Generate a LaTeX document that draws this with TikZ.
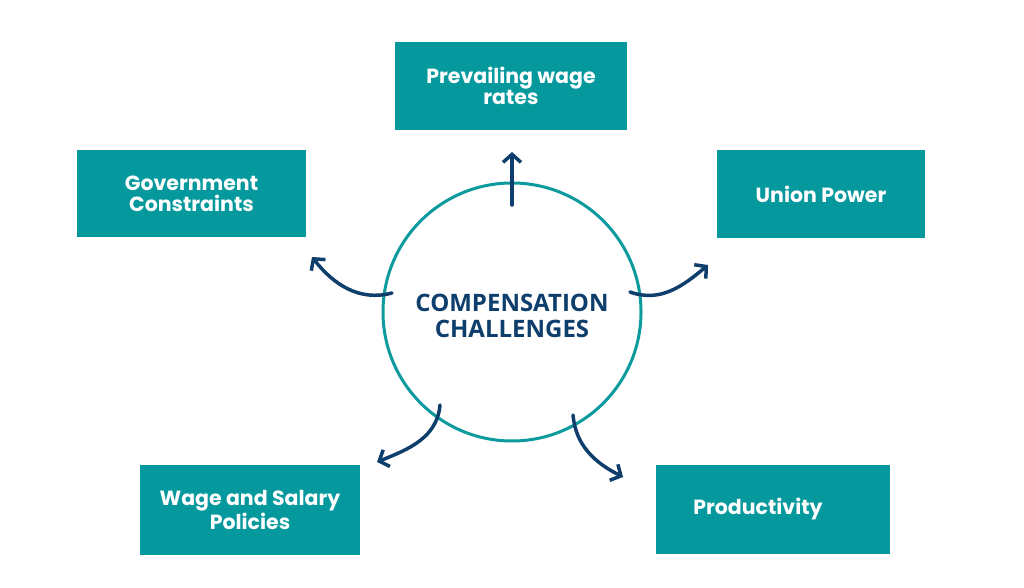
\documentclass[tikz,border=0pt]{standalone}
\usepackage{fontspec}
\newfontfamily\popfont{Poppins}
\newfontfamily\opensans{Open Sans}
\usetikzlibrary{arrows.meta}
\definecolor{tealbox}{HTML}{05999E}
\definecolor{tealring}{HTML}{0C9A9E}
\definecolor{navy}{HTML}{0E3E6C}
\tikzset{
  box/.style={fill=tealbox, draw=none, text=white, align=center,
    font=\popfont\bfseries\fontsize{20.5}{21}\selectfont, inner sep=0pt},
  ring/.style={circle, draw=tealring, line width=3pt, fill=white,
    minimum size=258pt, inner sep=0pt},
  flow/.style={draw=navy, line width=3.5pt, line cap=round,
    -{Straight Barb[length=8pt,width=18pt,line width=3.5pt]}}
}
\begin{document}
\begin{tikzpicture}[x=1pt,y=1pt]
\useasboundingbox[fill=white] (0,0) rectangle (1024,588);
% boxes
\node[box, minimum width=232pt, minimum height=88pt] (prev) at (511,502) {Prevailing wage\\rates};
\node[box, minimum width=229pt, minimum height=87pt] (gov) at (191.5,394.5) {Government\\Constraints};
\node[box, minimum width=208pt, minimum height=88pt] (union) at (821,394) {Union Power};
\node[box, minimum width=220pt, minimum height=90pt] (wage) at (250,78) {Wage and Salary\\Policies};
\node[box, minimum width=234pt, minimum height=89pt] (prod) at (773,78.5) {\hspace*{-30pt}Productivity};
% circle
\node[ring] (circ) at (512,276) {};
\node[font=\opensans\bfseries\fontsize{24}{26}\selectfont, text=navy, align=center] (title) at (512,272) {COMPENSATION\\CHALLENGES};
% arrow end points
\coordinate (s1) at (512,383); \coordinate (e1) at (512,436);
\coordinate (s2) at (392,295); \coordinate (e2) at (312,331);
\coordinate (s3) at (630,296); \coordinate (e3) at (708,323);
\coordinate (s4) at (440,183); \coordinate (e4) at (377,126);
\coordinate (s5) at (573,173); \coordinate (e5) at (623,111);
% arrows
\draw[flow] (s1) -- (e1);
\draw[flow] (s2) to[out=195,in=-52] (e2);
\draw[flow] (s3) to[out=-20,in=220] (e3);
\draw[flow] (s4) to[out=-95,in=22] (e4);
\draw[flow] (s5) to[out=-85,in=153] (e5);
\end{tikzpicture}
\end{document}
